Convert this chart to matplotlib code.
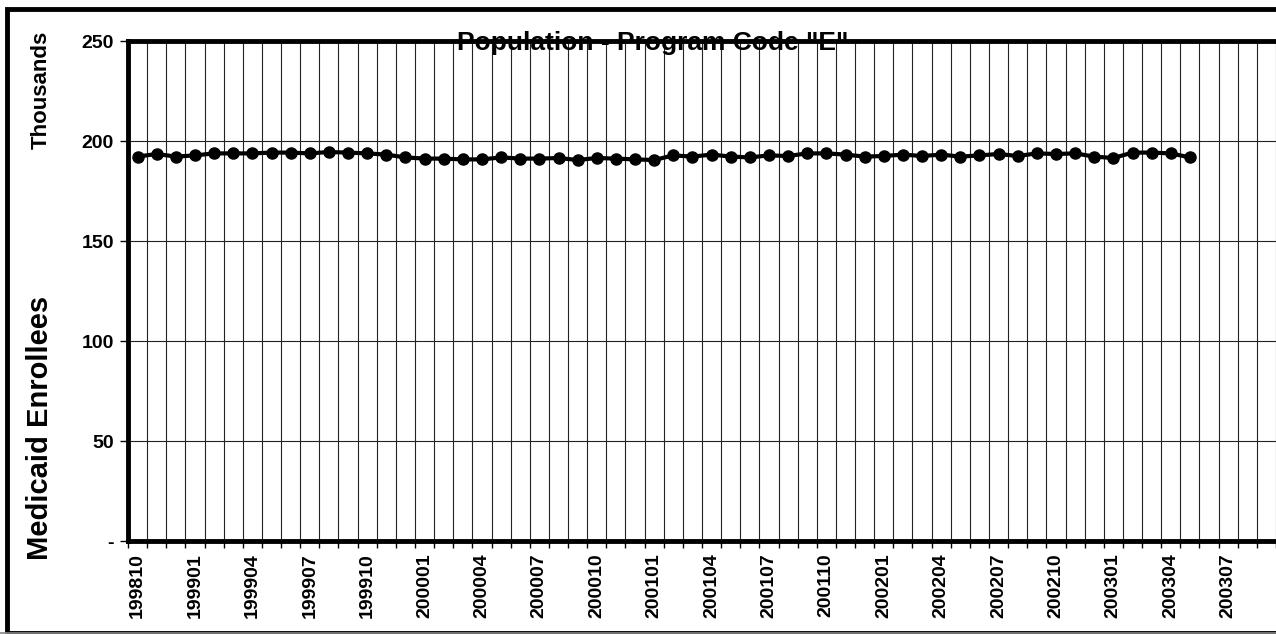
"""
Medicaid enrollees, program code "E", monthly line chart.
"""

import matplotlib
matplotlib.use("Agg")
import matplotlib.pyplot as plt
from matplotlib.patches import Rectangle

plt.rcParams['font.family'] = ['Liberation Sans', 'DejaVu Sans']
plt.rcParams['font.weight'] = 'bold'

# months shown on the category axis (199810 .. 200309)
months = []
y, m = 1998, 10
for _ in range(60):
    months.append(f"{y}{m:02d}")
    m += 1
    if m > 12:
        m = 1
        y += 1

# enrollees in thousands, 199810 .. 200305
enrollees = [
    192.2, 193.5, 192.2, 192.8, 193.8, 193.8, 193.8, 194.2, 194.2, 193.8,
    194.5, 194.2, 193.8, 193.2, 191.8, 191.2, 191.2, 190.8, 190.8, 191.8,
    191.2, 191.2, 191.5, 190.5, 191.5, 191.2, 190.8, 190.5, 192.8, 192.2,
    193.2, 192.2, 191.8, 192.8, 192.5, 193.8, 193.8, 193.2, 192.2, 192.5,
    193.2, 192.5, 193.2, 192.2, 192.8, 193.5, 192.5, 193.8, 193.5, 193.8,
    192.2, 191.5, 194.2, 194.2, 193.8, 191.8,
]

y_ticks = [0, 50, 100, 150, 200, 250]
y_tick_labels = ['-', '50', '100', '150', '200', '250']

W, H = 1276, 634
fig = plt.figure(figsize=(W / 100, H / 100), dpi=100)

# outer frame of the chart object
fig.patches.append(Rectangle((7 / W, 1 / H), 1.2, (H - 10) / H, transform=fig.transFigure,
                             fill=False, edgecolor='black', linewidth=3.5, zorder=0))
fig.patches.append(Rectangle((0, 1 / H), 1, 0, transform=fig.transFigure,
                             fill=False, edgecolor='#888888', linewidth=1.2, zorder=1))

ax = fig.add_axes([128 / W, (H - 541) / H, 1148 / W, 500 / H])

x = list(range(len(enrollees)))
ax.plot(x, enrollees, color='black', linewidth=3, marker='o', markersize=8,
        markerfacecolor='black', markeredgecolor='black', zorder=3)

ax.set_xlim(-0.5, len(months) - 0.5)
ax.set_ylim(0, 250)

# category boundaries carry the ticks and vertical gridlines
ax.set_xticks([i - 0.5 for i in range(len(months) + 1)], minor=True)
ax.set_xticks(range(0, len(months), 3))
ax.set_xticklabels(months[::3], rotation=90, fontsize=14, fontweight='bold')
ax.tick_params(axis='x', which='major', length=0, pad=9)
ax.tick_params(axis='x', which='minor', length=5, width=1, direction='out')
ax.grid(True, which='minor', axis='x', color='#222222', linewidth=0.8)

ax.set_yticks(y_ticks)
ax.set_yticklabels(y_tick_labels, fontsize=14, fontweight='bold')
ax.tick_params(axis='y', length=6, width=1, direction='out', pad=4)
ax.grid(True, which='major', axis='y', color='#222222', linewidth=0.8)

for side in ['left', 'bottom', 'top']:
    ax.spines[side].set_linewidth(3.5)
ax.spines['right'].set_visible(False)

fig.text(653 / W, 1 - 50 / H, 'Population - Program Code "E"', ha='center', va='baseline',
         fontsize=19, fontweight='bold')

fig.text(41 / W, 1 - 90 / H, 'Thousands', rotation=90, ha='center', va='center',
         fontsize=16, fontweight='bold')
fig.text(40 / W, 1 - 428 / H, 'Medicaid Enrollees', rotation=90, ha='center', va='center',
         fontsize=21, fontweight='bold')

fig.savefig('out.png', dpi=100)
